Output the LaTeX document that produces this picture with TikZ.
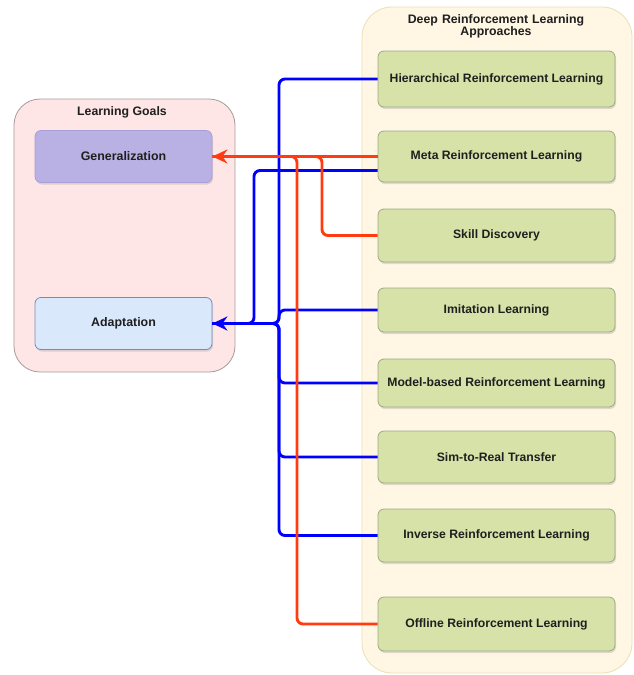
\documentclass[tikz,border=0pt]{standalone}
\usepackage{fontspec}
\setmainfont{Liberation Sans}
\usetikzlibrary{arrows.meta,shadows}

\definecolor{approachfill}{HTML}{D7E2A9}
\definecolor{approachline}{HTML}{9EA887}
\definecolor{outerright}{HTML}{FFF7E4}
\definecolor{outerrightline}{HTML}{EADFB5}
\definecolor{outerleft}{HTML}{FFE6E6}
\definecolor{outerleftline}{HTML}{A89A9A}
\definecolor{genfill}{HTML}{B9B0E3}
\definecolor{genline}{HTML}{A99FD8}
\definecolor{adaptfill}{HTML}{DAE8FC}
\definecolor{adaptline}{HTML}{6C8EBF}
\definecolor{linkred}{HTML}{FF3B0F}
\definecolor{linkblue}{HTML}{0000FF}

\tikzset{
    approach/.style={draw=approachline, fill=approachfill, rounded corners=6pt,
        minimum width=237pt, line width=0.8pt, font=\fontsize{12.2}{14}\selectfont\bfseries,
        text=black!88, drop shadow={opacity=0.25, shadow xshift=1pt, shadow yshift=-2pt}},
    goal/.style={rounded corners=6pt, minimum width=177pt, minimum height=52pt,
        line width=0.8pt, font=\fontsize{12.4}{14}\selectfont\bfseries, text=black!88,
        drop shadow={opacity=0.25, shadow xshift=1pt, shadow yshift=-2pt}},
    titletext/.style={font=\fontsize{12.3}{14}\selectfont\bfseries, text=black!88},
    blueline/.style={draw=linkblue, line width=2.9pt, rounded corners=6pt},
    redline/.style={draw=linkred, line width=2.9pt, rounded corners=6pt},
    tip/.style={-{Stealth[length=15pt,width=14pt,inset=5pt]}}
}

\begin{document}
\begin{tikzpicture}[x=1pt, y=-1pt]
    \useasboundingbox (0,0) rectangle (634,675);

    % containers
    \draw[fill=outerleft, draw=outerleftline, line width=0.8pt, rounded corners=26pt] (14,99) rectangle (235,372);
    \node[titletext] (goalstitle) at (122,112) {Learning Goals};
    \draw[fill=outerright, draw=outerrightline, line width=0.8pt, rounded corners=30pt] (362,7) rectangle (632,673);
    \node[titletext, align=center, text width=260pt] (apptitle) at (496,26)
        {Deep Reinforcement Learning\\[-2pt]Approaches};

    % learning goals
    \node[goal, fill=genfill, draw=genline] (gen) at (123.5,156.5) {Generalization};
    \node[goal, fill=adaptfill, draw=adaptline] (adapt) at (123.5,323.5) {Adaptation};

    % approaches
    \node[approach, minimum height=56pt] (hrl) at (496.5,79) {Hierarchical Reinforcement Learning};
    \node[approach, minimum height=51pt] (meta) at (496.5,156.5) {Meta Reinforcement Learning};
    \node[approach, minimum height=53pt] (skill) at (496.5,235.5) {Skill Discovery};
    \node[approach, minimum height=44pt] (imit) at (496.5,310) {Imitation Learning};
    \node[approach, minimum height=48pt] (mbrl) at (496.5,383) {Model-based Reinforcement Learning};
    \node[approach, minimum height=52pt] (sim) at (496.5,457) {Sim-to-Real Transfer};
    \node[approach, minimum height=53pt] (irl) at (496.5,535.5) {Inverse Reinforcement Learning};
    \node[approach, minimum height=54pt] (off) at (496.5,624) {Offline Reinforcement Learning};

    % links to adaptation
    \coordinate (metablue) at ([yshift=-14pt]meta.west);
    \draw[blueline] (hrl.west) -- (279,79) -- (279,323.5) -- (adapt.east);
    \draw[blueline] (imit.west) -- (279,310) -- (279,323.5) -- (adapt.east);
    \draw[blueline] (mbrl.west) -- (279,383) -- (279,323.5) -- (adapt.east);
    \draw[blueline] (sim.west) -- (279,457) -- (279,323.5) -- (adapt.east);
    \draw[blueline] (irl.west) -- (279,535.5) -- (279,323.5) -- (adapt.east);
    \draw[blueline, tip] (metablue) -- (254,170.5) -- (254,323.5) -- (adapt.east);

    % links to generalization
    \draw[redline] (skill.west) -- (322,235.5) -- (322,156.5) -- (gen.east);
    \draw[redline] (off.west) -- (297,624) -- (297,156.5) -- (gen.east);
    \draw[redline, tip] (meta.west) -- (gen.east);
\end{tikzpicture}
\end{document}
